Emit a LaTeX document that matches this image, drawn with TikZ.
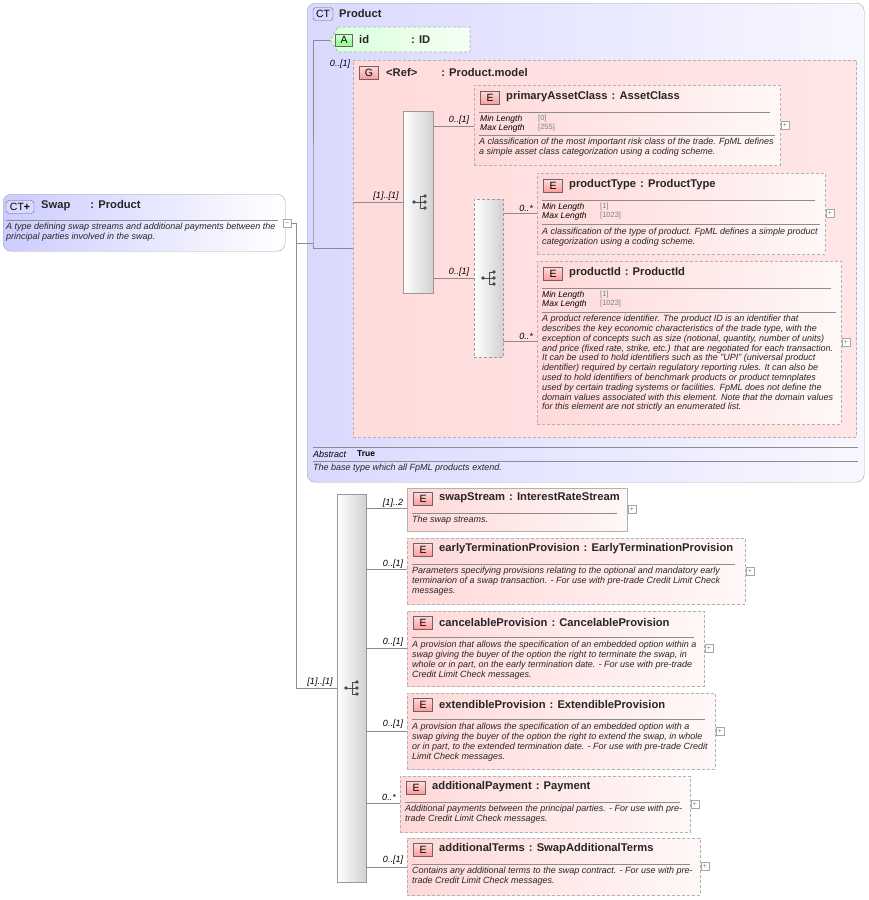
\documentclass[tikz,border=0pt]{standalone}
\usepackage{fontspec}
\setmainfont{Liberation Sans}
\usetikzlibrary{calc}
\begin{document}
\begin{tikzpicture}[x=1pt,y=-1pt,
  conn/.style={draw=black!45,line width=0.6pt},
  opt/.style={dashed,dash pattern=on 3pt off 2pt},
  ebox/.style={draw=black!30,line width=0.8pt,left color=red!15,right color=red!3,inner sep=0pt},
  badge/.style={draw=black!60,top color=red!15,bottom color=red!40,minimum width=19pt,minimum height=13pt,inner sep=0pt,font=\fontsize{10.5}{10.5}\selectfont},
  ttl/.style={anchor=west,inner sep=0pt,font=\fontsize{11.2}{12}\selectfont\bfseries,text=black!85},
  dsc/.style={anchor=north west,inner sep=0pt,align=left,font=\fontsize{9}{9.8}\selectfont\itshape,text=black!85},
  card/.style={inner sep=0pt,font=\fontsize{9}{9}\selectfont\itshape},
  minmax/.style={card,anchor=west,font=\fontsize{8.5}{8.5}\selectfont\itshape},
  val/.style={anchor=west,inner sep=0pt,font=\fontsize{7.5}{7.5}\selectfont,text=black!50},
  plusbox/.style={draw=black!35,fill=white,minimum size=8pt,inner sep=0pt,font=\fontsize{7}{7}\selectfont,text=black!50},
  seq/.style={draw=black!40,left color=white,right color=black!18,inner sep=0pt,anchor=north west}]
\useasboundingbox (0,0) rectangle (869,900);
\newcommand\seqicon[1]{%
  \fill[black!70] ($(#1)+(-6,0)$) circle (1.8);
  \draw[black!70,line width=0.8pt] ($(#1)+(-6,0)$) -- ($(#1)+(0,0)$)
    ($(#1)+(0,-6)$) -- ($(#1)+(0,6)$) ($(#1)+(0,-6)$) -- ($(#1)+(4,-6)$)
    ($(#1)+(0,6)$) -- ($(#1)+(4,6)$) ($(#1)+(0,0)$) -- ($(#1)+(4,0)$);
  \fill[black!70] ($(#1)+(5,-6)$) circle (1.8) ($(#1)+(5,0)$) circle (1.8) ($(#1)+(5,6)$) circle (1.8);}
\newcommand\elem[8]{% name, x1, y1, x2, y2, style, title, header y
  \node[ebox,#6,anchor=north west,minimum width={#4pt-#2pt},minimum height={#5pt-#3pt}] (#1) at (#2,#3) {};
  \node[badge] (#1b) at (#2+16,#8+1) {E};
  \node[ttl] (#1t) at (#2+32,#8) {#7};
  \draw[black!45] (#2+5,#8+15) -- (#4-10,#8+15);
  \node[plusbox] (#1p) at (#4+5,#5/2+#3/2) {+};}

% Swap
\node[draw=black!35,rounded corners=8pt,left color=blue!20,right color=white,anchor=north west,minimum width=282pt,minimum height=57pt,inner sep=0pt] (swap) at (3,194) {};
\node[draw=black!60,fill=blue!15,rounded corners=3pt,minimum width=28pt,minimum height=13pt,inner sep=0pt,font=\fontsize{10.5}{10}\selectfont] (swapb) at (20,207) {CT\textbf{+}};
\node[ttl] (swapt) at (41,206) {Swap\hspace{20pt}: Product};
\draw[black!45] (6,220) -- (278,220);
\node[dsc] (swapd) at (6,223) {A type defining swap streams and additional payments between the\\principal parties involved in the swap.};
\node[plusbox] (swapm) at (287,223) {--};

% Product
\node[draw=black!35,rounded corners=8pt,left color=blue!15,right color=blue!3,anchor=north west,minimum width=557pt,minimum height=479pt,inner sep=0pt] (prod) at (307,3) {};
\node[draw=black!60,fill=blue!15,rounded corners=3pt,minimum width=20pt,minimum height=13pt,inner sep=0pt,font=\fontsize{10.5}{10}\selectfont] (prodb) at (323,14) {CT};
\node[ttl] (prodt) at (339,13) {Product};
\draw[black!45] (313,447) -- (858,447) (313,461) -- (858,461);
\node[card,anchor=west] (abs) at (313,454) {Abstract};
\node[anchor=west,inner sep=0pt,font=\fontsize{8.5}{8}\selectfont\bfseries] (abst) at (357,454) {True};
\node[dsc] (prodd) at (313,464) {The base type which all FpML products extend.};

% attribute id
\draw[black!30,opt,line width=0.8pt,left color=green!15,right color=green!4] (338,27) -- (470,27) -- (470,52) -- (338,52) -- (330,40) -- cycle;
\node[draw=black!60,top color=green!15,bottom color=green!45,minimum width=17pt,minimum height=12pt,inner sep=0pt,font=\fontsize{10.5}{10}\selectfont] (attb) at (344,40) {A};
\node[ttl] (att) at (359,39) {id\hspace{42pt}: ID};
\coordinate (atte) at (330,40);

% group
\node[ebox,opt,anchor=north west,minimum width=503pt,minimum height=377pt,left color=red!14,right color=red!10] (grp) at (353,60) {};
\node[badge] (grpb) at (369,73) {G};
\node[ttl] (grpt) at (386,72) {<Ref>\hspace{24pt}: Product.model};
\node[card] at (340,64) {0..[1]};

% sequences
\node[seq,minimum width=30pt,minimum height=182pt] (s1) at (403,111) {};
\coordinate (s1c) at (420,202);
\seqicon{s1c}
\node[seq,opt,minimum width=29pt,minimum height=158pt] (s2) at (474,199) {};
\coordinate (s2c) at (489,278);
\seqicon{s2c}
\node[seq,minimum width=29pt,minimum height=388pt] (s3) at (337,494) {};
\coordinate (s3c) at (352,688);
\seqicon{s3c}

% elements in group
\elem{pac}{474}{85}{780}{165}{opt}{primaryAssetClass\hspace{4pt}: AssetClass}{97}
\node[minmax] at (480,119) {Min Length};
\node[minmax] at (480,128) {Max Length};
\node[val] at (538,119) {[0]};
\node[val] at (538,128) {[255]};
\draw[black!45] (479,135) -- (775,135);
\node[dsc] at (479,138) {A classification of the most important risk class of the trade. FpML defines\\a simple asset class categorization using a coding scheme.};

\elem{pty}{537}{173}{825}{254}{opt}{productType\hspace{4pt}: ProductType}{185}
\node[minmax] at (542,207) {Min Length};
\node[minmax] at (542,216) {Max Length};
\node[val] at (600,207) {[1]};
\node[val] at (600,216) {[1023]};
\draw[black!45] (542,224) -- (820,224);
\node[dsc] at (542,228) {A classification of the type of product. FpML defines a simple product\\categorization using a coding scheme.};

\elem{pid}{537}{261}{841}{424}{opt}{productId\hspace{4pt}: ProductId}{273}
\node[minmax] at (542,295) {Min Length};
\node[minmax] at (542,304) {Max Length};
\node[val] at (600,295) {[1]};
\node[val] at (600,304) {[1023]};
\draw[black!45] (542,312) -- (836,312);
\node[dsc] at (542,315) {A product reference identifier. The product ID is an identifier that\\describes the key economic characteristics of the trade type, with the\\exception of concepts such as size (notional, quantity, number of units)\\and price (fixed rate, strike, etc.) that are negotiated for each transaction.\\It can be used to hold identifiers such as the "UPI" (universal product\\identifier) required by certain regulatory reporting rules. It can also be\\used to hold identifiers of benchmark products or product temnplates\\used by certain trading systems or facilities. FpML does not define the\\domain values associated with this element. Note that the domain values\\for this element are not strictly an enumerated list.};

% swap elements
\elem{sws}{407}{488}{627}{531}{solid}{swapStream\hspace{4pt}: InterestRateStream}{498}
\node[dsc] at (412,516) {The swap streams.};
\elem{etp}{407}{538}{745}{604}{opt}{earlyTerminationProvision\hspace{4pt}: EarlyTerminationProvision}{549}
\node[dsc] at (412,567) {Parameters specifying provisions relating to the optional and mandatory early\\terminarion of a swap transaction. - For use with pre-trade Credit Limit Check\\messages.};
\elem{cnp}{407}{611}{704}{686}{opt}{cancelableProvision\hspace{4pt}: CancelableProvision}{622}
\node[dsc] at (412,641) {A provision that allows the specification of an embedded option within a\\swap giving the buyer of the option the right to terminate the swap, in\\whole or in part, on the early termination date. - For use with pre-trade\\Credit Limit Check messages.};
\elem{exp}{407}{693}{715}{769}{opt}{extendibleProvision\hspace{4pt}: ExtendibleProvision}{704}
\node[dsc] at (412,723) {A provision that allows the specification of an embedded option with a\\swap giving the buyer of the option the right to extend the swap, in whole\\or in part, to the extended termination date. - For use with pre-trade Credit\\Limit Check messages.};
\elem{adp}{400}{776}{690}{832}{opt}{additionalPayment\hspace{4pt}: Payment}{787}
\node[dsc] at (405,805) {Additional payments between the principal parties. - For use with pre-\\trade Credit Limit Check messages.};
\elem{adt}{407}{838}{700}{895}{opt}{additionalTerms\hspace{4pt}: SwapAdditionalTerms}{849}
\node[dsc] at (412,867) {Contains any additional terms to the swap contract. - For use with pre-\\trade Credit Limit Check messages.};

% connectors
\coordinate (j1) at (296,223);
\coordinate (j2) at (313,243);
\draw[conn] (swapm.east) -- (j1) |- (s3c -| s3.west);
\draw[conn] (296,243) -- (j2);
\draw[conn] (atte) -| (j2) |- (grp.west |- 0,248);
\draw[conn] (grp.west |- s1c) -- (s1.west |- s1c);
\node[card] at (386,196) {[1]..[1]};
\draw[conn] (s1.east |- 0,126) -- (pac.west |- 0,126);
\node[card] at (459,120) {0..[1]};
\draw[conn] (s1.east |- s2c) -- (s2.west |- s2c);
\node[card] at (459,272) {0..[1]};
\draw[conn] (s2.east |- 0,213) -- (pty.west |- 0,213);
\node[card] at (526,208) {0..*};
\draw[conn] (s2.east |- 0,341) -- (pid.west |- 0,341);
\node[card] at (526,336) {0..*};
\node[card] at (320,682) {[1]..[1]};
\draw[conn] (s3.east |- 0,508) -- (sws.west |- 0,508);
\node[card] at (393,503) {[1]..2};
\draw[conn] (s3.east |- 0,569) -- (etp.west |- 0,569);
\node[card] at (393,564) {0..[1]};
\draw[conn] (s3.east |- 0,648) -- (cnp.west |- 0,648);
\node[card] at (393,642) {0..[1]};
\draw[conn] (s3.east |- 0,731) -- (exp.west |- 0,731);
\node[card] at (393,724) {0..[1]};
\draw[conn] (s3.east |- 0,803) -- (adp.west |- 0,803);
\node[card] at (389,797) {0..*};
\draw[conn] (s3.east |- 0,867) -- (adt.west |- 0,867);
\node[card] at (393,860) {0..[1]};
\end{tikzpicture}
\end{document}
